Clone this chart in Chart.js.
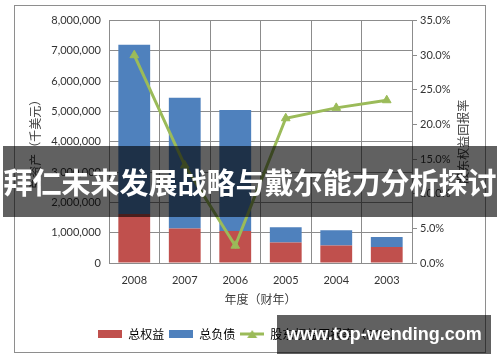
<!DOCTYPE html>
<html>
<head>
<meta charset="utf-8">
<script src="https://cdn.jsdelivr.net/npm/chart.js@4.4.1/dist/chart.umd.min.js"></script>
<style>
  html, body { margin: 0; padding: 0; background: #fff; }
  body { width: 500px; height: 362px; position: relative; overflow: hidden; }
  #frame { position: absolute; left: 14px; top: 5px; width: 470px; height: 346px; border: 1px solid #8e8e8e; }
  #frame canvas { display: block; }
  #banner { position: absolute; left: 3px; top: 146px; width: 494px; height: 71px; background: rgba(0,0,0,0.62);
    color: #fff; font: bold 29px "Noto Sans CJK SC", sans-serif; line-height: 71px; text-align: center; white-space: nowrap; }
  #mark { position: absolute; left: 277px; top: 315px; width: 214px; height: 39px; background: rgba(0,0,0,0.62);
    color: #fff; font: bold 18px "Liberation Sans", Arial, sans-serif; line-height: 39px; text-align: center; white-space: nowrap; }
</style>
</head>
<body>
<div id="frame"><canvas id="c" width="470" height="346"></canvas></div>
<div id="banner">拜仁未来发展战略与戴尔能力分析探讨</div>
<div id="mark">www.top-wending.com</div>
<script>
// ---- data ----
const categories = ['2008', '2007', '2006', '2005', '2004', '2003'];
const equity = [1620000, 1140000, 1060000, 680000, 580000, 530000];
const liabilities = [5580000, 4310000, 3990000, 500000, 500000, 330000];
const roe = [30.0, 14.1, 2.5, 20.9, 22.4, 23.5];
const seriesNames = ['总权益', '总负债', '股东权益回报率（ROE）'];
const leftTicks = [0, 1000000, 2000000, 3000000, 4000000, 5000000, 6000000, 7000000, 8000000];
const rightTicks = [0, 5, 10, 15, 20, 25, 30, 35];
const xTitle = '年度（财年）';
const yTitle = '总资产（千美元）';
const y1Title = '股东权益回报率';

const RED = '#C0504D', BLUE = '#4F81BD', GREEN = '#9BBB59';
const GRID = '#8c8c8c', TXT = '#333333', CJK = '"Noto Sans CJK SC", sans-serif';

function swatchRect(color) {
  const c = document.createElement('canvas'); c.width = 24; c.height = 8;
  const g = c.getContext('2d'); g.fillStyle = color; g.fillRect(0, 0, 24, 8); return c;
}
function swatchLine(color) {
  const c = document.createElement('canvas'); c.width = 24; c.height = 10;
  const g = c.getContext('2d'); g.strokeStyle = color; g.lineWidth = 3;
  g.beginPath(); g.moveTo(0, 5); g.lineTo(24, 5); g.stroke();
  g.fillStyle = color; g.beginPath(); g.moveTo(12, 1); g.lineTo(17, 9); g.lineTo(7, 9); g.closePath(); g.fill();
  return c;
}
const swatches = [swatchRect(RED), swatchRect(BLUE), swatchLine(GREEN)];

const axisTitles = {
  id: 'axisTitles',
  afterDraw(chart) {
    const { ctx, chartArea } = chart;
    const cy = (chartArea.top + chartArea.bottom) / 2;
    ctx.save();
    ctx.font = '12px ' + CJK;
    ctx.fillStyle = '#404040';
    ctx.textAlign = 'center'; ctx.textBaseline = 'middle';
    ctx.save(); ctx.translate(chart.scales.y.left + 20, cy); ctx.rotate(-Math.PI / 2); ctx.fillText(yTitle, 0, 0); ctx.restore();
    ctx.save(); ctx.translate(chart.scales.y1.right - 22, cy); ctx.rotate(-Math.PI / 2); ctx.fillText(y1Title, 0, 0); ctx.restore();
    ctx.fillText(xTitle, (chartArea.left + chartArea.right) / 2, chartArea.bottom + 36);
    ctx.restore();
  }
};

new Chart(document.getElementById('c'), {
  type: 'bar',
  data: {
    labels: categories,
    datasets: [
      { label: seriesNames[0], data: equity, backgroundColor: RED, yAxisID: 'y', order: 1, stack: 's',
        categoryPercentage: 1, barPercentage: 0.63 },
      { label: seriesNames[1], data: liabilities, backgroundColor: BLUE, yAxisID: 'y', order: 1, stack: 's',
        categoryPercentage: 1, barPercentage: 0.63 },
      { type: 'line', label: seriesNames[2], data: roe, yAxisID: 'y1', order: 0,
        borderColor: GREEN, backgroundColor: GREEN, borderWidth: 3, tension: 0,
        pointStyle: 'triangle', pointRadius: 5, pointBorderWidth: 1, pointBackgroundColor: GREEN, pointBorderColor: GREEN }
    ]
  },
  options: {
    responsive: false,
    animation: false,
    layout: { padding: { left: 0, right: 0, top: 13, bottom: 2 } },
    plugins: {
      tooltip: { enabled: false },
      legend: {
        position: 'bottom',
        labels: {
          usePointStyle: true, pointStyleWidth: 24, boxHeight: 8, padding: 5,
          color: '#404040', font: { family: CJK, size: 12 },
          generateLabels: () => seriesNames.map((n, i) => ({
            text: n, fillStyle: [RED, BLUE, GREEN][i], strokeStyle: 'transparent', lineWidth: 0,
            pointStyle: swatches[i], datasetIndex: i, hidden: false
          }))
        }
      }
    },
    scales: {
      x: {
        stacked: true,
        afterFit: s => { s.height = 60; },
        grid: { color: GRID, tickLength: 0, offset: true },
        border: { color: GRID },
        ticks: { color: TXT, font: { family: 'Lato', size: 11 }, padding: 11 }
      },
      y: {
        stacked: true, min: 0, max: 8000000, position: 'left',
        afterFit: s => { s.width = 94; },
        afterBuildTicks: s => { s.ticks = leftTicks.map(v => ({ value: v })); },
        grid: { color: GRID, tickLength: 0 },
        border: { color: GRID },
        ticks: { color: TXT, font: { family: 'Lato', size: 11 }, padding: 8,
          callback: v => v.toLocaleString('en-US') }
      },
      y1: {
        min: 0, max: 35, position: 'right',
        afterFit: s => { s.width = 73; },
        afterBuildTicks: s => { s.ticks = rightTicks.map(v => ({ value: v })); },
        grid: { drawOnChartArea: false, color: GRID, tickLength: 5 },
        border: { color: GRID },
        ticks: { color: TXT, font: { family: 'Lato', size: 11 }, padding: 3,
          callback: v => v.toFixed(1) + '%' }
      }
    }
  },
  plugins: [axisTitles]
});
</script>
</body>
</html>
